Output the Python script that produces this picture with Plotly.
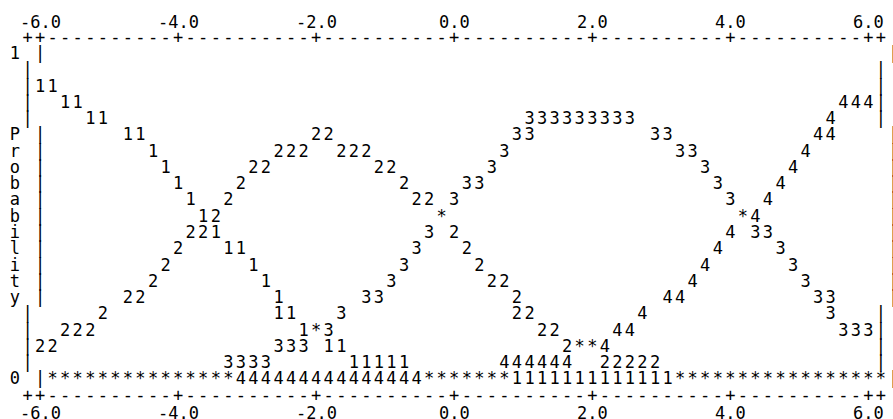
import plotly.graph_objects as go

# x positions of the printed points (one per print column of the text plot)
X = [-6.00, -5.82, -5.64, -5.45, -5.27, -5.09, -4.91, -4.73, -4.55, -4.36,
     -4.18, -4.00, -3.82, -3.64, -3.45, -3.27, -3.09, -2.91, -2.73, -2.55,
     -2.36, -2.18, -2.00, -1.82, -1.64, -1.45, -1.27, -1.09, -0.91, -0.73,
     -0.55, -0.36, -0.18, 0.00, 0.18, 0.36, 0.55, 0.73, 0.91, 1.09,
     1.27, 1.45, 1.64, 1.82, 2.00, 2.18, 2.36, 2.55, 2.73, 2.91,
     3.09, 3.27, 3.45, 3.64, 3.82, 4.00, 4.18, 4.36, 4.55, 4.73,
     4.91, 5.09, 5.27, 5.45, 5.64, 5.82, 6.00]

# probability of each response level
P1 = [0.90, 0.90, 0.85, 0.85, 0.80, 0.80, 0.75, 0.75, 0.70, 0.65,
      0.60, 0.55, 0.50, 0.45, 0.40, 0.40, 0.35, 0.30, 0.25, 0.20,
      0.20, 0.15, 0.15, 0.10, 0.10, 0.05, 0.05, 0.05, 0.05, 0.05,
      0.00, 0.00, 0.00, 0.00, 0.00, 0.00, 0.00, 0.00, 0.00, 0.00,
      0.00, 0.00, 0.00, 0.00, 0.00, 0.00, 0.00, 0.00, 0.00, 0.00,
      0.00, 0.00, 0.00, 0.00, 0.00, 0.00, 0.00, 0.00, 0.00, 0.00,
      0.00, 0.00, 0.00, 0.00, 0.00, 0.00, 0.00]
P2 = [0.10, 0.10, 0.15, 0.15, 0.15, 0.20, 0.25, 0.25, 0.30, 0.35,
      0.40, 0.45, 0.45, 0.50, 0.55, 0.60, 0.65, 0.65, 0.70, 0.70,
      0.70, 0.75, 0.75, 0.70, 0.70, 0.70, 0.65, 0.65, 0.60, 0.55,
      0.55, 0.50, 0.45, 0.40, 0.35, 0.30, 0.30, 0.25, 0.20, 0.20,
      0.15, 0.15, 0.10, 0.10, 0.10, 0.05, 0.05, 0.05, 0.05, 0.05,
      0.00, 0.00, 0.00, 0.00, 0.00, 0.00, 0.00, 0.00, 0.00, 0.00,
      0.00, 0.00, 0.00, 0.00, 0.00, 0.00, 0.00]
P3 = [0.00, 0.00, 0.00, 0.00, 0.00, 0.00, 0.00, 0.00, 0.00, 0.00,
      0.00, 0.00, 0.00, 0.00, 0.00, 0.05, 0.05, 0.05, 0.05, 0.10,
      0.10, 0.10, 0.15, 0.15, 0.20, 0.25, 0.25, 0.30, 0.35, 0.40,
      0.45, 0.50, 0.55, 0.60, 0.60, 0.65, 0.70, 0.75, 0.75, 0.80,
      0.80, 0.80, 0.80, 0.80, 0.80, 0.80, 0.80, 0.80, 0.75, 0.75,
      0.70, 0.70, 0.65, 0.60, 0.55, 0.50, 0.45, 0.45, 0.40, 0.35,
      0.30, 0.25, 0.25, 0.20, 0.15, 0.15, 0.15]
P4 = [0.00, 0.00, 0.00, 0.00, 0.00, 0.00, 0.00, 0.00, 0.00, 0.00,
      0.00, 0.00, 0.00, 0.00, 0.00, 0.00, 0.00, 0.00, 0.00, 0.00,
      0.00, 0.00, 0.00, 0.00, 0.00, 0.00, 0.00, 0.00, 0.00, 0.00,
      0.00, 0.00, 0.00, 0.00, 0.00, 0.00, 0.00, 0.05, 0.05, 0.05,
      0.05, 0.05, 0.05, 0.10, 0.10, 0.10, 0.15, 0.15, 0.20, 0.25,
      0.25, 0.30, 0.35, 0.40, 0.45, 0.50, 0.50, 0.55, 0.60, 0.65,
      0.70, 0.75, 0.75, 0.80, 0.85, 0.85, 0.85]

SYMBOLS = ["1", "2", "3", "4"]
X_TICKS = [-6, -4, -2, 0, 2, 4, 6]
X_TICK_TEXT = ["-6.0", "-4.0", "-2.0", "0.0", "2.0", "4.0", "6.0"]
Y_TICKS = [0, 1]
Y_TICK_TEXT = ["0", "1"]
Y_TITLE = "Probability"

# text-plot grid: 11 print columns per 2 units, 20 rows from 0 to 1
COLS_PER_UNIT = 5.5
ROWS = 20
LAST_COL = 68
FONT = dict(family="DejaVu Sans Mono", size=17, color="black")


def col_of(x):
    return round(1 + (x - X_TICKS[0]) * COLS_PER_UNIT)


def x_of(col):
    return X_TICKS[0] + (col - 1) / COLS_PER_UNIT


def row_of(p):
    return round((1 - p) * ROWS)


def p_of(row):
    return 1 - row / ROWS


# collect plotted symbols per cell, '*' where levels collide
cells = {}
for sym, probs in zip(SYMBOLS, [P1, P2, P3, P4]):
    for x, p in zip(X, probs):
        cells.setdefault((row_of(p), col_of(x)), set()).add(sym)

# rows carrying a vertical label character are printed one column to the right
labels = {row_of(t): s for t, s in zip(Y_TICKS, Y_TICK_TEXT)}
start = (ROWS + 1 - len(Y_TITLE)) // 2
for i, ch in enumerate(Y_TITLE):
    labels[start + i] = ch

chars = []
tick_cols = {col_of(t) for t in X_TICKS}
for row in (-1, ROWS + 1):
    for c in range(0, LAST_COL + 1):
        chars.append((c, row, "+" if c in tick_cols or c in (0, LAST_COL) else "-"))

for row in range(ROWS + 1):
    s = 1 if row in labels else 0
    if row in labels:
        chars.append((-2 + s, row, labels[row]))
    chars.append((0 + s, row, "|"))
    chars.append((LAST_COL + s, row, "|"))

for (row, col), syms in cells.items():
    s = 1 if row in labels else 0
    chars.append((col + s, row, "*" if len(syms) > 1 else syms.pop()))

fig = go.Figure()
fig.add_trace(go.Scatter(
    x=[x_of(c) for c, r, t in chars],
    y=[p_of(r) for c, r, t in chars],
    text=[t for c, r, t in chars],
    mode="text",
    textposition="middle center",
    textfont=FONT,
    hoverinfo="skip",
))

for t, lab in zip(X_TICKS, X_TICK_TEXT):
    for row in (-2, ROWS + 2):
        fig.add_annotation(
            x=t, y=p_of(row), text=lab, showarrow=False,
            xanchor="center", yanchor="middle",
            font=FONT,
        )

fig.update_layout(
    width=893, height=419,
    margin=dict(l=0, r=0, t=0, b=0),
    paper_bgcolor="white", plot_bgcolor="white",
    showlegend=False,
    hovermode=False,
    xaxis=dict(visible=False, range=[-6.5802, 6.3571]),
    yaxis=dict(visible=False, range=[-0.1200, 1.1692]),
)

fig.write_html("out.html", config={"displayModeBar": False},
               post_script="document.body.style.margin = '0';")
